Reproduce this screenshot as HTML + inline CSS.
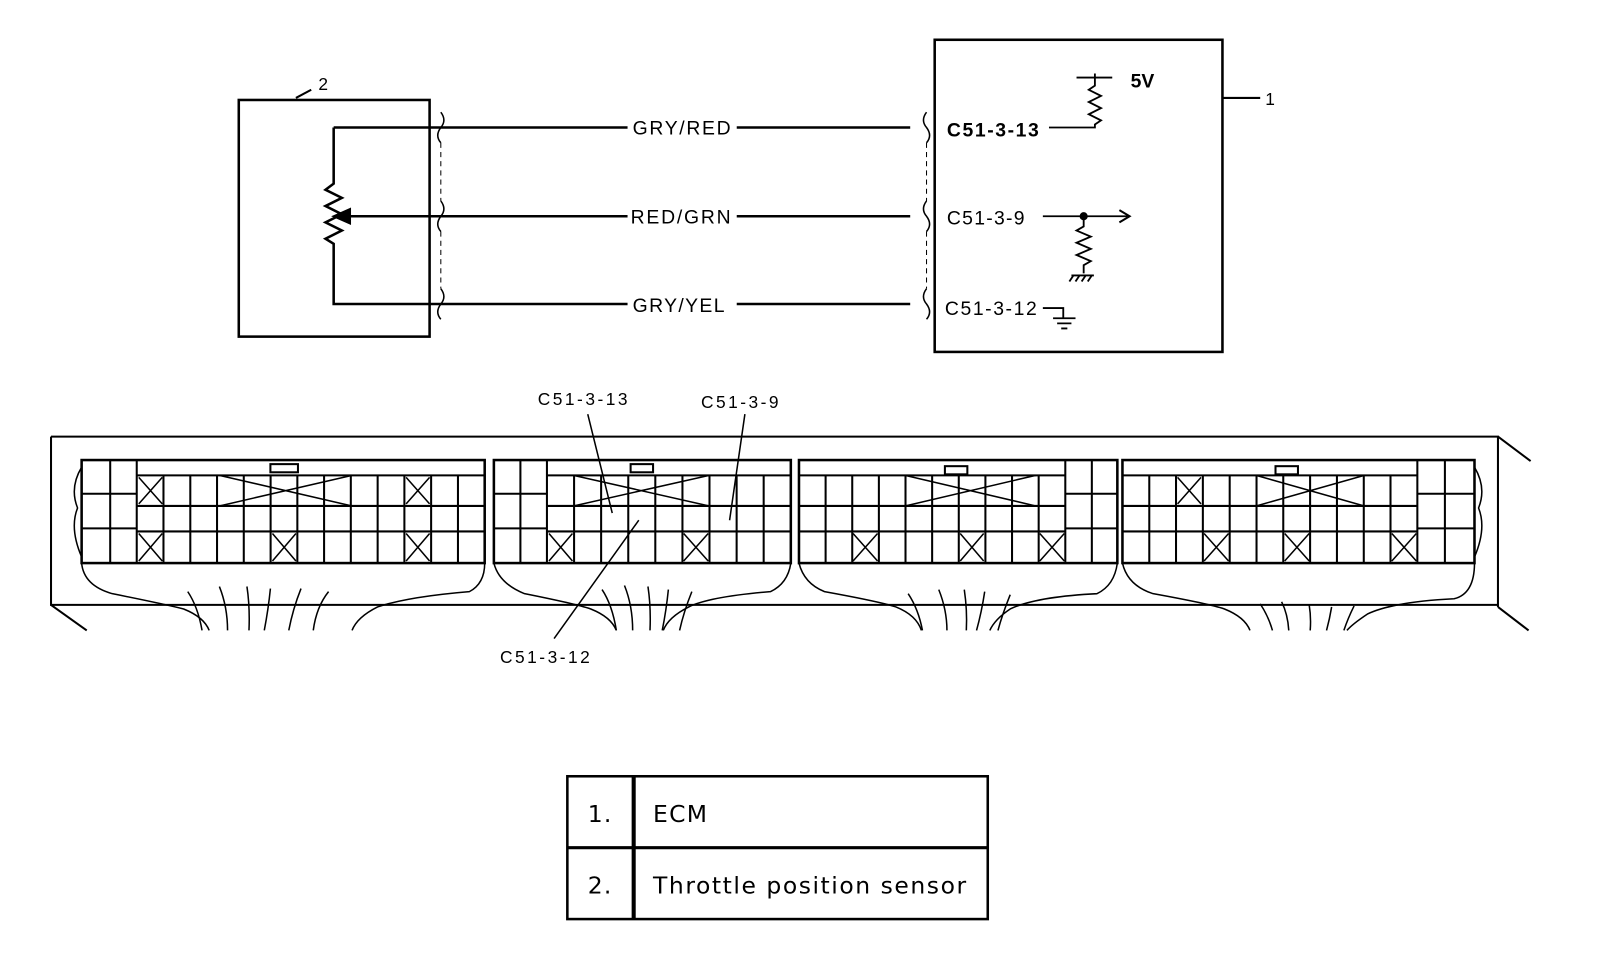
<!DOCTYPE html>
<html><head><meta charset="utf-8"><style>
html,body{margin:0;padding:0;background:#fff;}
svg{display:block;}
text{font-family:"Liberation Sans",Arial,sans-serif;fill:#000;}
.t{font-family:"DejaVu Sans",Verdana,sans-serif;font-size:23px;letter-spacing:1.2px;}
</style></head><body>
<svg width="1600" height="966" viewBox="0 0 1568 947" preserveAspectRatio="none" xmlns="http://www.w3.org/2000/svg">
<g fill="none" stroke="#000" stroke-width="2">
<!-- sensor box -->
<rect x="234" y="98" width="187" height="232" stroke-width="2.5"/>
<path d="M290 96 L305 88"/>
<path d="M327 125 H615 M722 125 H892 M327 125 V180 l-8 6 16 8 -16 8 16 8 -16 8 16 8 -16 8 8 5 V298 H615 M722 298 H892" stroke-width="2.5"/>
<path d="M340 212 H615 M722 212 H892" stroke-width="2.5"/>
<path d="M327 212 l16 -7 v14 z" fill="#000"/>
<!-- brackets -->
<path d="M432 110 q6 8 0 15 q-6 8 0 15 M432 197 q6 8 0 15 q-6 8 0 15 M432 283 q6 8 0 15 q-6 8 0 15" stroke-width="1.5"/>
<path d="M432 140 V197 M432 227 V283" stroke-width="1" stroke-dasharray="5 4"/>
<path d="M908 110 q-6 8 0 15 q6 8 0 15 M908 197 q-6 8 0 15 q6 8 0 15 M908 283 q-6 8 0 15 q6 8 0 15" stroke-width="1.5"/>
<path d="M908 140 V197 M908 227 V283" stroke-width="1" stroke-dasharray="5 4"/>
<!-- ECM box -->
<rect x="916" y="39" width="282" height="306" stroke-width="2.5"/>
<path d="M1198 96 H1235"/>
<path d="M1055 76 H1090 M1073 72 V84 l-6 4 12 6 -12 6 12 6 -12 6 12 6 -6 4 V125 H1028" stroke-width="1.8"/>
<path d="M1022 212 H1105" stroke-width="1.8"/>
<path d="M1097 206 l10 6 -10 6" stroke-width="2"/>
<circle cx="1062" cy="212" r="3" fill="#000"/>
<path d="M1062 212 V222 l-7 4 14 6 -14 6 14 6 -14 6 14 6 -7 4 V268 M1050 270 H1072 M1052 270 l-4 6 M1058 270 l-4 6 M1064 270 l-4 6 M1070 270 l-4 6" stroke-width="1.8"/>
<path d="M1022 302 H1042 V312 M1032 312 H1054 M1036 317 H1050 M1040 322 H1046" stroke-width="1.8"/>
<!-- outer connector housing -->
<path d="M50 428 H1468 V595 M50 428 V593 H1468 M50 593 L85 618 M1468 428 L1500 452 M1468 595 L1498 618"/>
<!-- block1 -->
<rect x="80" y="451" width="395" height="101" stroke-width="2.5"/>
<path d="M108 451 V552 M134 451 V552 M134 466 H475 M134 496 H475 M134 521 H475 M80 484 H134 M80 518 H134 M160.2 466 V552 M186.5 466 V552 M212.7 466 V552 M238.9 466 V552 M265.2 466 V552 M291.4 466 V552 M317.6 466 V552 M343.8 466 V552 M370.1 466 V552 M396.3 466 V552 M422.5 466 V552 M448.8 466 V552"/>
<rect x="265" y="455" width="27" height="8"/>
<path d="M215 466 L345 496 M215 496 L345 466 M136 468 L159 494 M159 468 L136 494 M398 468 L421 494 M421 468 L398 494 M136 523 L159 550 M159 523 L136 550 M267 523 L290 550 M290 523 L267 550 M398 523 L421 550 M421 523 L398 550" stroke-width="1.5"/>
<!-- block2 -->
<rect x="484" y="451" width="291" height="101" stroke-width="2.5"/>
<path d="M510 451 V552 M536 451 V552 M536 466 H775 M536 496 H775 M536 521 H775 M484 484 H536 M484 518 H536 M562.6 466 V552 M589.1 466 V552 M615.7 466 V552 M642.2 466 V552 M668.8 466 V552 M695.3 466 V552 M721.9 466 V552 M748.4 466 V552"/>
<rect x="618" y="455" width="22" height="8"/>
<path d="M562 466 L695 496 M562 496 L695 466 M538 523 L561 550 M561 523 L538 550 M670 523 L694 550 M694 523 L670 550" stroke-width="1.5"/>
<!-- block3 -->
<rect x="783" y="451" width="312" height="101" stroke-width="2.5"/>
<path d="M1044 451 V552 M1070 451 V552 M783 466 H1044 M783 496 H1044 M783 521 H1044 M1044 484 H1095 M1044 518 H1095 M809.1 466 V552 M835.2 466 V552 M861.3 466 V552 M887.4 466 V552 M913.5 466 V552 M939.6 466 V552 M965.7 466 V552 M991.8 466 V552 M1017.9 466 V552"/>
<rect x="926" y="457" width="22" height="8"/>
<path d="M887 466 L1015 496 M887 496 L1015 466 M836 523 L860 550 M860 523 L836 550 M941 523 L964 550 M964 523 L941 550 M1019 523 L1043 550 M1043 523 L1019 550" stroke-width="1.5"/>
<!-- block4 -->
<rect x="1100" y="451" width="345" height="101" stroke-width="2.5"/>
<path d="M1389 451 V552 M1416 451 V552 M1100 466 H1389 M1100 496 H1389 M1100 521 H1389 M1389 484 H1445 M1389 518 H1445 M1126.3 466 V552 M1152.5 466 V552 M1178.8 466 V552 M1205.1 466 V552 M1231.4 466 V552 M1257.6 466 V552 M1283.9 466 V552 M1310.2 466 V552 M1336.5 466 V552 M1362.7 466 V552"/>
<rect x="1250" y="457" width="22" height="8"/>
<path d="M1231 466 L1337 496 M1231 496 L1337 466 M1154 468 L1177 494 M1177 468 L1154 494 M1180 523 L1204 550 M1204 523 L1180 550 M1259 523 L1283 550 M1283 523 L1259 550 M1364 523 L1388 550 M1388 523 L1364 550" stroke-width="1.5"/>
<!-- side bumps -->
<path d="M80 458 q-12 20 -4 40 q-8 20 4 48 M1445 458 q12 20 4 40 q8 20 -4 48" stroke-width="1.5"/>
<!-- cable bells -->
<path d="M80 552 q2 22 30 30 q50 10 70 15 q20 8 25 21 M475 552 q0 20 -15 28 q-60 5 -90 15 q-20 10 -25 23" stroke-width="1.5"/>
<path d="M484 552 q5 20 30 30 q50 10 65 15 q20 8 25 21 M775 552 q-3 20 -20 28 q-60 5 -80 15 q-20 10 -25 23" stroke-width="1.5"/>
<path d="M783 552 q5 20 25 28 q55 10 70 15 q20 8 25 23 M1095 552 q-3 22 -20 30 q-60 3 -85 15 q-15 10 -20 21" stroke-width="1.5"/>
<path d="M1100 552 q5 22 30 30 q55 10 70 15 q20 8 25 21 M1445 552 q0 30 -20 35 q-60 3 -85 15 q-15 10 -20 16" stroke-width="1.5"/>
<path d="M184 580 q10 15 14 38 M215 575 q8 20 8 43 M242 575 q3 20 2 43 M265 577 q-2 20 -6 41 M295 577 q-8 20 -12 41 M322 580 q-12 15 -15 38" stroke-width="1.5"/>
<path d="M590 578 q10 15 14 40 M612 574 q8 20 8 44 M635 575 q3 20 2 43 M655 578 q-2 20 -6 40 M678 580 q-8 20 -12 38" stroke-width="1.5"/>
<path d="M890 582 q10 15 14 36 M920 578 q8 20 8 40 M945 578 q3 20 2 40 M965 580 q-3 20 -8 38 M990 583 q-8 20 -12 35" stroke-width="1.5"/>
<path d="M1235 592 q8 12 12 26 M1256 590 q6 12 7 28 M1283 593 q2 12 1 25 M1305 595 q-2 12 -5 23 M1327 594 q-6 12 -10 24" stroke-width="1.5"/>
<!-- leaders -->
<path d="M576 406 L600 503 M730 406 L715 510 M543 626 L626 510" stroke-width="1.5"/>
<!-- table -->
<rect x="556" y="761" width="412" height="140" stroke-width="2.5"/>
<path d="M621 761 V901" stroke-width="4"/>
<path d="M556 831 H968" stroke-width="3"/>
</g>
<g font-size="19">
<text x="312" y="88" font-size="17">2</text>
<text x="1240" y="103" font-size="17">1</text>
<text x="620" y="132" textLength="96">GRY/RED</text>
<text x="618" y="219" textLength="98">RED/GRN</text>
<text x="620" y="306" textLength="90">GRY/YEL</text>
<text x="1108" y="86" font-weight="bold">5V</text>
<text x="928" y="134" font-weight="bold" textLength="90">C51-3-13</text>
<text x="928" y="220" textLength="76">C51-3-9</text>
<text x="926" y="309" textLength="90">C51-3-12</text>
<text x="527" y="397" font-size="17" textLength="88">C51-3-13</text>
<text x="687" y="400" font-size="17" textLength="76">C51-3-9</text>
<text x="490" y="650" font-size="17" textLength="88">C51-3-12</text>
</g>
<text class="t" x="576" y="806">1.</text>
<text class="t" x="640" y="806">ECM</text>
<text class="t" x="576" y="876">2.</text>
<text class="t" x="640" y="876" textLength="308">Throttle position sensor</text>
</svg>
</body></html>
